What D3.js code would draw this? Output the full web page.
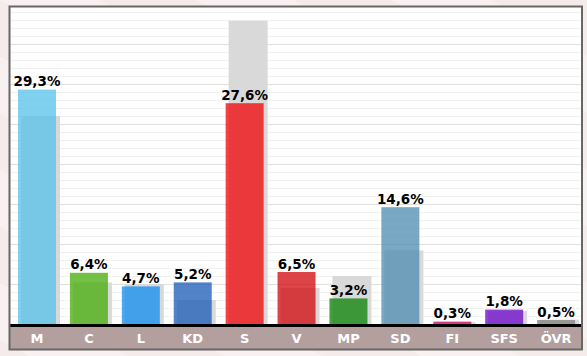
<!DOCTYPE html>
<html><head><meta charset="utf-8">
<script src="https://cdn.jsdelivr.net/npm/d3@7"></script>
<style>
html,body{margin:0;padding:0;width:587px;height:356px;overflow:hidden;}
svg{display:block;}
</style></head>
<body>
<svg id="chart" width="587" height="356"></svg>
<script>
const categories = ["M","C","L","KD","S","V","MP","SD","FI","SFS","ÖVR"];
const currentValues = [29.3,6.4,4.7,5.2,27.6,6.5,3.2,14.6,0.3,1.8,0.5];
const previousValues = [26.0,5.2,5.0,3.0,37.9,4.5,6.0,9.2,0.25,1.6,0.55];
const valueLabels = ["29,3%","6,4%","4,7%","5,2%","27,6%","6,5%","3,2%","14,6%","0,3%","1,8%","0,5%"];
const partyColors = ["#55c1eb","#43ab06","#0f8bee","#185ab6","#f00306","#d0060a","#068000","#4b8bb0","#d6006a","#6b03c8","#808080"];

(function(){
const W = 587, H = 356;
const pLeft = 10, pRight = 581, pTop = 8, base = 324;
const svg = d3.select("#chart");

// background with diagonal stripes
const defs = svg.append("defs");
const pat = defs.append("pattern").attr("id","stripes").attr("patternUnits","userSpaceOnUse")
  .attr("width",98).attr("height",98).attr("patternTransform","rotate(-60)");
pat.append("rect").attr("width",98).attr("height",98).attr("fill","#f6ebeb");
pat.append("rect").attr("width",49).attr("height",98).attr("fill","#f9f1f1");
svg.append("rect").attr("width",W).attr("height",H).attr("fill","url(#stripes)");

const x = d3.scaleBand().domain(categories).range([pLeft, pRight]).paddingInner(0).paddingOuter(0);
const y = d3.scaleLinear().domain([0, 39.5]).range([base, pTop]);

// plot background
svg.append("rect").attr("x",pLeft).attr("y",pTop-1).attr("width",pRight-pLeft).attr("height",349-pTop+1).attr("fill","#ffffff");

// gridlines
const minorTicks = d3.range(1, 40, 1).filter(v => v % 5 !== 0);
const majorTicks = d3.range(5, 40, 5);
svg.append("g").selectAll("line").data(minorTicks).join("line")
  .attr("x1",pLeft).attr("x2",pRight).attr("y1",d=>Math.round(y(d))+0.5).attr("y2",d=>Math.round(y(d))+0.5)
  .attr("stroke","#f1f1f1").attr("stroke-width",1);
svg.append("g").selectAll("line").data(majorTicks).join("line")
  .attr("x1",pLeft).attr("x2",pRight).attr("y1",d=>Math.round(y(d))+0.5).attr("y2",d=>Math.round(y(d))+0.5)
  .attr("stroke","#e0e0e0").attr("stroke-width",1);

// previous (gray) bars
svg.append("g").selectAll("rect").data(categories).join("rect")
  .attr("x",d=>x(d)+11).attr("width",39)
  .attr("y",(d,i)=>y(previousValues[i])).attr("height",(d,i)=>base - y(previousValues[i]))
  .attr("fill","#d9d9d9");

// current bars
svg.append("g").selectAll("rect").data(categories).join("rect")
  .attr("x",d=>x(d)+8).attr("width",38)
  .attr("y",(d,i)=>y(currentValues[i])).attr("height",(d,i)=>base - y(currentValues[i]))
  .attr("fill",(d,i)=>partyColors[i]).attr("fill-opacity",0.75);

// value labels
svg.append("g").selectAll("text").data(categories).join("text")
  .attr("x",d=>x(d)+27).attr("y",(d,i)=>y(currentValues[i]) - 3.5)
  .attr("text-anchor","middle")
  .style("font-family","'DejaVu Sans', Verdana, sans-serif").style("font-weight","bold").style("font-size","13.5px")
  .attr("fill","#000")
  .text((d,i)=>valueLabels[i]);

// label band
svg.append("rect").attr("x",pLeft).attr("y",base+2).attr("width",pRight-pLeft).attr("height",349-base-2).attr("fill","#b39f9e");
// axis line
svg.append("line").attr("x1",pLeft).attr("x2",pRight).attr("y1",base+1.5).attr("y2",base+1.5).attr("stroke","#000").attr("stroke-width",3);

// category labels
svg.append("g").selectAll("text").data(categories).join("text")
  .attr("x",d=>x(d)+27).attr("y",343)
  .attr("text-anchor","middle")
  .style("font-family","'DejaVu Sans', Verdana, sans-serif").style("font-weight","bold").style("font-size","13px")
  .attr("fill","#ffffff")
  .text(d=>d);

// frame
svg.append("rect").attr("x",pLeft-0.5).attr("y",pTop-1.5).attr("width",pRight-pLeft+1.5).attr("height",349-pTop+2)
  .attr("fill","none").attr("stroke","#666").attr("stroke-width",2);
})();
</script>
</body></html>
